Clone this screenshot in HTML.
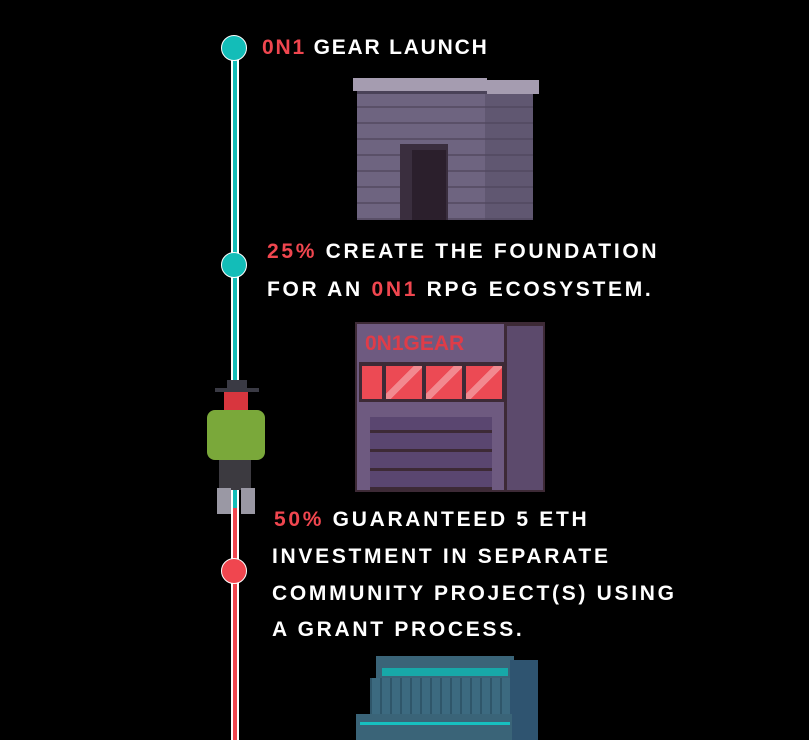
<!DOCTYPE html>
<html><head><style>
body{margin:0;width:809px;height:740px;background:#000;overflow:hidden;position:relative;font-family:"Liberation Sans",sans-serif}
.a{position:absolute}
.t{position:absolute;color:#fff;font-weight:bold;font-size:21px;letter-spacing:2.7px;white-space:nowrap;line-height:22px}
.r{color:#f0464f}
</style></head><body>
<div class="a" style="left:231px;top:48px;width:8px;height:460px;background:#fff"></div>
<div class="a" style="left:233px;top:48px;width:4px;height:460px;background:#13bdb8"></div>
<div class="a" style="left:231px;top:508px;width:8px;height:232px;background:#fff"></div>
<div class="a" style="left:233px;top:508px;width:4px;height:232px;background:#f0464f"></div>
<div class="a" style="left:221px;top:35px;width:24px;height:24px;border-radius:50%;background:#13bdb8;border:1px solid #fff"></div>
<div class="a" style="left:221px;top:252px;width:24px;height:24px;border-radius:50%;background:#13bdb8;border:1px solid #fff"></div>
<div class="a" style="left:221px;top:558px;width:24px;height:24px;border-radius:50%;background:#f0464f;border:1px solid #fff"></div>

<div class="t" style="left:262px;top:37px;letter-spacing:1.8px"><span class="r">0N1</span> GEAR LAUNCH</div>
<div class="t" style="left:267px;top:241px"><span class="r">25%</span> CREATE THE FOUNDATION</div>
<div class="t" style="left:267px;top:279px">FOR AN <span class="r">0N1</span> RPG ECOSYSTEM.</div>
<div class="t" style="left:274px;top:509px"><span class="r">50%</span> GUARANTEED 5 ETH</div>
<div class="t" style="left:272px;top:546px">INVESTMENT IN SEPARATE</div>
<div class="t" style="left:272px;top:583px">COMMUNITY PROJECT(S) USING</div>
<div class="t" style="left:272px;top:619px">A GRANT PROCESS.</div>

<div class="a" style="left:357px;top:90px;width:176px;height:130px;background:#6e6480;background-image:repeating-linear-gradient(0deg,#5a5068 0 2px,transparent 2px 16px)">
  <div class="a" style="left:0;top:0;width:176px;height:4px;background:#4a4258"></div>
  <div class="a" style="left:128px;top:0;width:48px;height:130px;background:rgba(80,70,95,.45)"></div>
  <div class="a" style="left:43px;top:54px;width:48px;height:76px;background:#3a2e3e"></div>
  <div class="a" style="left:55px;top:60px;width:34px;height:70px;background:#2b1f2c"></div>
</div>
<div class="a" style="left:353px;top:78px;width:134px;height:13px;background:#a59cb0"></div>
<div class="a" style="left:487px;top:80px;width:52px;height:14px;background:#a59cb0"></div>

<div class="a" style="left:355px;top:322px;width:190px;height:170px;background:#3d2a36">
  <div class="a" style="left:2px;top:2px;width:147px;height:166px;background:#6e5a80"></div>
  <div class="a" style="left:152px;top:4px;width:36px;height:164px;background:#5c4a6c"></div>
  <div class="a" style="left:10px;top:10px;font-weight:bold;font-size:21px;color:#e03c48;letter-spacing:0">0N1GEAR</div>
  <div class="a" style="left:4px;top:40px;width:145px;height:40px;background:#3d2a36"></div>
  <div class="a" style="left:7px;top:44px;width:20px;height:33px;background:#ec4a54"></div>
  <div class="a" style="left:31px;top:44px;width:36px;height:33px;background:linear-gradient(135deg,#ec4a54 40%,#f28a90 40% 55%,#ec4a54 55%)"></div>
  <div class="a" style="left:71px;top:44px;width:36px;height:33px;background:linear-gradient(135deg,#ec4a54 40%,#f28a90 40% 55%,#ec4a54 55%)"></div>
  <div class="a" style="left:111px;top:44px;width:36px;height:33px;background:linear-gradient(135deg,#ec4a54 40%,#f28a90 40% 55%,#ec4a54 55%)"></div>
  <div class="a" style="left:15px;top:95px;width:122px;height:73px;background:#5a4670;background-image:repeating-linear-gradient(0deg,#3d2a36 0 3px,transparent 3px 19px)"></div>
</div>

<div class="a" style="left:207px;top:380px;width:60px;height:136px">
  <div class="a" style="left:20px;top:0;width:20px;height:9px;background:#3a3a44"></div>
  <div class="a" style="left:8px;top:8px;width:44px;height:4px;background:#3a3a44"></div>
  <div class="a" style="left:17px;top:12px;width:24px;height:22px;background:#d8363e"></div>
  <div class="a" style="left:0;top:30px;width:58px;height:50px;background:#7aa83a;border-radius:8px"></div>
  <div class="a" style="left:12px;top:80px;width:32px;height:30px;background:#3c3a40"></div>
  <div class="a" style="left:10px;top:108px;width:14px;height:26px;background:#9a98a4"></div>
  <div class="a" style="left:34px;top:108px;width:14px;height:26px;background:#9a98a4"></div>
</div>

<div class="a" style="left:356px;top:656px;width:182px;height:84px">
  <div class="a" style="left:20px;top:0;width:138px;height:22px;background:#3a6478"></div>
  <div class="a" style="left:26px;top:12px;width:126px;height:8px;background:#17a8a8"></div>
  <div class="a" style="left:14px;top:22px;width:140px;height:38px;background:#3c6a80;background-image:repeating-linear-gradient(90deg,#2f566a 0 2px,transparent 2px 10px)"></div>
  <div class="a" style="left:154px;top:4px;width:28px;height:80px;background:#2f5470"></div>
  <div class="a" style="left:0;top:58px;width:156px;height:26px;background:#3a6478"></div>
  <div class="a" style="left:4px;top:66px;width:150px;height:3px;background:#17c0c0"></div>
</div>
</body></html>
